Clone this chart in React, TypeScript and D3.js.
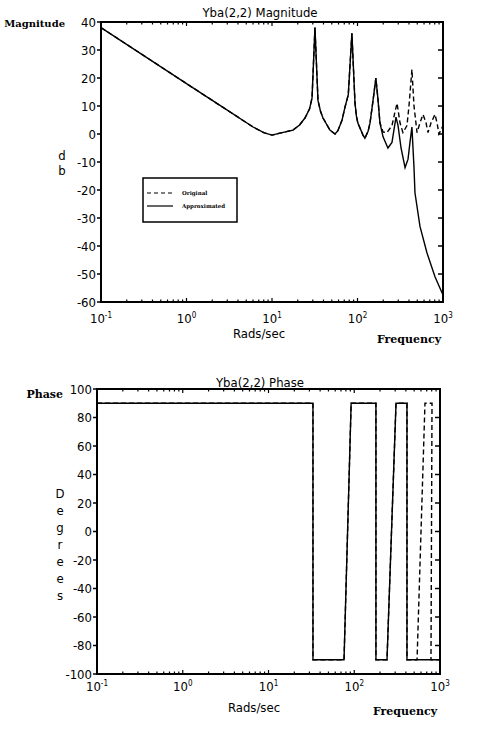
import React from 'react'
import * as d3 from 'd3'

// magnitude (dB), shared part of both curves
const sharedFreq = [0.1, 1, 3, 6, 8, 10, 12.4, 17.6, 21, 24.3, 27.5, 29.4, 31.8, 34.5, 37, 39.5, 47.6, 54.6, 59, 66, 71.4, 78, 86, 93.5, 97, 101, 116, 122, 133, 140, 152, 164, 174, 183]
const sharedDb = [38, 18, 8.5, 2.5, 0.5, -0.4, 0.3, 1.4, 3.2, 5.7, 9, 12.9, 38, 12, 8, 5.7, 1.4, 0, 1.2, 5, 9.6, 14, 36, 11, 6.5, 3.9, -0.4, -1.5, 1, 3.9, 12, 20, 12, 4]

const origTailFreq = [199, 221, 253, 275, 290, 314, 340, 379, 400, 433, 458, 497, 538, 584, 633, 668, 725, 806, 851, 897, 1000]
const origTailDb = [0.7, 0.5, 3, 8, 11, 4, 0.5, 3, 10, 23, 10, 0.5, 4, 7, 4, 0.5, 4, 7, 4, 0, 3]

const approxTailFreq = [199, 227, 253, 282, 298, 323, 360, 390, 411, 433, 458, 470, 538, 650, 806, 1000]
const approxTailDb = [-1, -5, -3, 6, 3, -5, -12, -9, -3, 2.5, -12, -21, -33, -42.5, -51, -57.5]

// phase (degrees)
const approxPhaseFreq = [0.1, 33, 33, 76, 92, 179, 179, 241, 307, 412, 412, 1000]
const approxPhaseDeg = [90, 90, -90, -90, 90, 90, -90, -90, 90, 90, -90, -90]
const origPhaseFreq = [0.1, 33, 33, 76, 92, 179, 179, 241, 307, 412, 412, 540, 668, 807, 785, 1000]
const origPhaseDeg = [90, 90, -90, -90, 90, 90, -90, -90, 90, 90, -90, -90, 90, 90, -90, -90]

const decades = [-1, 0, 1, 2, 3]
const magTicks = [40, 30, 20, 10, 0, -10, -20, -30, -40, -50, -60]
const phaseTicks = [100, 80, 60, 40, 20, 0, -20, -40, -60, -80, -100]
const legendLabels = ['Original', 'Approximated']

const tickFont = "'DejaVu Sans Condensed', 'DejaVu Sans', sans-serif"
const serifFont = "'DejaVu Serif', 'Liberation Serif', serif"

const minorVals: number[] = []
decades.slice(0, 4).forEach(n => {
  for (let k = 1; k <= 9; k++) minorVals.push(k * Math.pow(10, n))
})
minorVals.push(1000)

const zip = (fs: number[], vs: number[]) => fs.map((f, i) => [f, vs[i]] as [number, number])

const Label = ({ x, y, anchor = 'middle', children }) => (
  <text x={x} y={y} textAnchor={anchor} fontFamily={tickFont} fontStretch="condensed" fontSize={13}>{children}</text>
)

const Frame = ({ x, y, ticks, labelX, tickLen }) => {
  const [x0, x1] = x.range()
  const [y0, y1] = y.range()
  return (
    <g>
      <rect x={x0} y={y1} width={x1 - x0} height={y0 - y1} fill="none" stroke="#000" strokeWidth={2} />
      {ticks.map(t => (
        <g key={t}>
          <line x1={x0 - tickLen} x2={x0} y1={y(t)} y2={y(t)} stroke="#000" strokeWidth={1.5} />
          <line x1={x1 - 5} x2={x1} y1={y(t)} y2={y(t)} stroke="#000" strokeWidth={1.5} />
          <Label x={labelX} y={y(t) + 4.5} anchor="end">{t}</Label>
        </g>
      ))}
      {minorVals.map((v, i) => {
        const len = Math.abs(Math.log10(v) % 1) < 1e-9 ? 4 : 2.5
        return (
          <g key={i}>
            <line x1={x(v)} x2={x(v)} y1={y1} y2={y1 + len} stroke="#000" strokeWidth={1.2} />
            <line x1={x(v)} x2={x(v)} y1={y0} y2={y0 - len} stroke="#000" strokeWidth={1.2} />
          </g>
        )
      })}
    </g>
  )
}

const XLabels = ({ x, baseline }) => (
  <g>
    {decades.map(n => (
      <text key={n} x={x(Math.pow(10, n))} y={baseline} textAnchor="middle" fontFamily={tickFont} fontStretch="condensed" fontSize={13}>
        10<tspan dy={-5} fontSize={8}>{n}</tspan>
      </text>
    ))}
  </g>
)

export default function App() {
  const xTop = d3.scaleLog().domain([0.1, 1000]).range([101, 443])
  const yTop = d3.scaleLinear().domain([-60, 40]).range([302, 22])
  const xBot = d3.scaleLog().domain([0.1, 1000]).range([97, 440])
  const yBot = d3.scaleLinear().domain([-100, 100]).range([674, 389])

  const magLine = d3.line<[number, number]>().x(d => xTop(d[0])).y(d => yTop(d[1]))
  const phaseLine = d3.line<[number, number]>().x(d => xBot(d[0])).y(d => yBot(d[1]))

  const shared = zip(sharedFreq, sharedDb)
  const orig = shared.concat(zip(origTailFreq, origTailDb))
  const approx = shared.concat(zip(approxTailFreq, approxTailDb))

  return (
    <svg width={492} height={736} style={{ position: 'absolute', left: 0, top: 0, background: '#fff' }}>
      {/* magnitude */}
      <Label x={260} y={17}>Yba(2,2) Magnitude</Label>
      <text x={65} y={27} textAnchor="end" fontFamily={serifFont} fontWeight="bold" fontSize={10}>Magnitude</text>
      <Label x={62} y={160}>d</Label>
      <Label x={62} y={175}>b</Label>
      <Frame x={xTop} y={yTop} ticks={magTicks} labelX={96} tickLen={4} />
      <XLabels x={xTop} baseline={323} />
      <Label x={259} y={338}>Rads/sec</Label>
      <text x={409} y={343} textAnchor="middle" fontFamily={serifFont} fontWeight="bold" fontSize={11}>Frequency</text>
      <path d={magLine(approx)} fill="none" stroke="#000" strokeWidth={1.4} />
      <path d={magLine(orig)} fill="none" stroke="#000" strokeWidth={1.4} strokeDasharray="5,3" />

      {/* legend */}
      <rect x={143} y={178} width={94} height={44} fill="#fff" stroke="#000" strokeWidth={1.5} />
      {legendLabels.map((l, i) => (
        <g key={l}>
          <line x1={147} x2={173} y1={193 + i * 13} y2={193 + i * 13} stroke="#000" strokeWidth={1.2} strokeDasharray={i === 0 ? '4,3' : undefined} />
          <text x={182} y={195 + i * 13} fontFamily={serifFont} fontWeight="bold" fontSize={5.5} fill="#000">{l}</text>
        </g>
      ))}

      {/* phase */}
      <Label x={260} y={387}>Yba(2,2) Phase</Label>
      <text x={63} y={398} textAnchor="end" fontFamily={serifFont} fontWeight="bold" fontSize={11}>Phase</text>
      {'Degrees'.split('').map((c, i) => (
        <Label key={i} x={60} y={498 + i * 17}>{c}</Label>
      ))}
      <Frame x={xBot} y={yBot} ticks={phaseTicks} labelX={92} tickLen={4} />
      <XLabels x={xBot} baseline={691} />
      <Label x={254} y={712}>Rads/sec</Label>
      <text x={405} y={715} textAnchor="middle" fontFamily={serifFont} fontWeight="bold" fontSize={11}>Frequency</text>
      <path d={phaseLine(zip(approxPhaseFreq, approxPhaseDeg))} fill="none" stroke="#000" strokeWidth={1.4} />
      <path d={phaseLine(zip(origPhaseFreq, origPhaseDeg))} fill="none" stroke="#000" strokeWidth={1.4} strokeDasharray="5,3" />
    </svg>
  )
}
